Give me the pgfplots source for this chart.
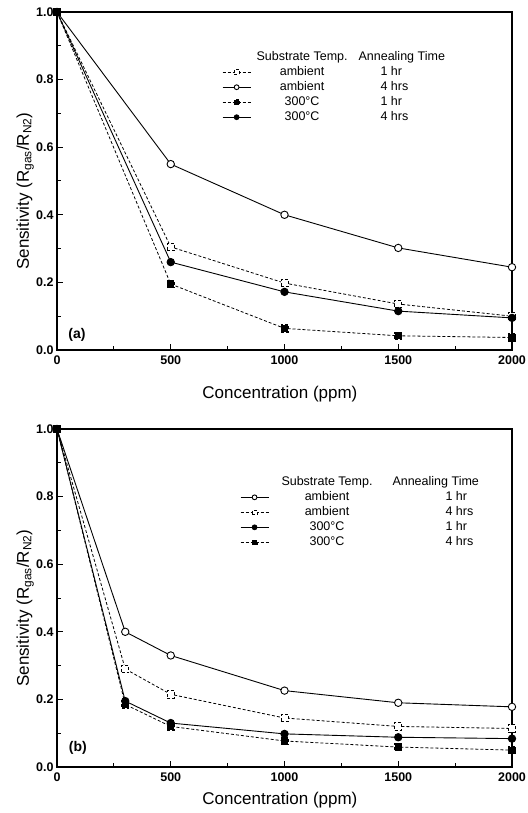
\documentclass[border=0pt]{standalone}
\usepackage{fontspec}
\setmainfont{Liberation Sans}
\usepackage{pgfplots}
\pgfplotsset{compat=1.18}

\pgfplotsset{
  sens/.style={
    scale only axis, width=455pt, height=338pt,
    xmin=0, xmax=2000, ymin=0, ymax=1,
    xtick={0,500,1000,1500,2000}, ytick={0,0.2,0.4,0.6,0.8,1.0},
    minor x tick num=1, minor y tick num=1,
    tick pos=left, tick align=inside,
    major tick length=6pt, minor tick length=4pt,
    axis line style={line width=1.6pt},
    tick style={black, line width=1pt},
    ticklabel style={font=\fontsize{12.5}{14}\selectfont\bfseries},
    xticklabel style={yshift=-2.5pt},
    /pgf/number format/assume math mode=true,
    /pgf/number format/1000 sep={},
    yticklabel style={/pgf/number format/.cd, fixed, fixed zerofill, precision=1},
    xlabel={Concentration (ppm)},
    ylabel={Sensitivity (R\textsubscript{gas}/R\textsubscript{N2})},
    label style={font=\fontsize{17}{19}\selectfont},
    ylabel style={at={(axis description cs:-0.07,0.47)}, anchor=center},
    legend cell align=left,
    legend style={draw=none, fill=none, inner sep=0pt, row sep=0pt,
      nodes={inner sep=1.5pt, text height=9pt, text depth=3pt,
        font=\fontsize{12.5}{14}\selectfont}},
    legend image code/.code={\draw[mark repeat=2,mark phase=2]
      plot coordinates {(0pt,0pt) (14pt,0pt) (28pt,0pt)};},
    legend image post style={mark size=2.4pt},
  },
  dsh/.style={black, line width=0.8pt, dash pattern=on 3pt off 2pt,
    mark options={solid, line width=0.8pt}, mark size=3.6pt},
  sld/.style={black, line width=0.9pt,
    mark options={solid, line width=0.8pt}, mark size=3.7pt},
}

% legend row: lead, col1 width, gap, indent of col2, col1 text, col2 text
\newcommand{\lrow}[6]{\hspace{#1}\makebox[#2][c]{#5}\hspace{#3}\makebox[100pt][l]{\hspace{#4}#6}}

\pgfplotstableread{
conc ambA1 ambA4 hotA1 hotA4
0    1.0   1.0   1.0   1.0
500  0.305 0.55  0.195 0.26
1000 0.198 0.40  0.064 0.172
1500 0.136 0.302 0.042 0.115
2000 0.100 0.245 0.037 0.095
}\panela

\pgfplotstableread{
conc ambB1 ambB4 hotB1 hotB4
0    1.0   1.0   1.0   1.0
300  0.40  0.29  0.195 0.185
500  0.33  0.215 0.13  0.12
1000 0.226 0.145 0.098 0.077
1500 0.19  0.12  0.088 0.059
2000 0.178 0.114 0.084 0.050
}\panelb

\begin{document}
\begin{tikzpicture}
\useasboundingbox (-57pt,-463pt) rectangle (470pt,350pt);

% (a)
\begin{axis}[sens,
  xlabel style={at={(axis description cs:0.49,-0.13)}, anchor=center},
  legend style={at={(axis description cs:0.3626,0.889)}, anchor=north west}]
\addlegendimage{empty legend}
\addlegendentry{\lrow{5pt}{89pt}{12pt}{0pt}{Substrate Temp.}{Annealing Time}}
\addplot[dsh, mark=square*, mark options={fill=white}] table[x=conc,y=ambA1] {\panela};
\addlegendentry{\lrow{5pt}{89pt}{12pt}{22pt}{ambient}{1 hr}}
\addplot[sld, mark=*, mark options={fill=white}] table[x=conc,y=ambA4] {\panela};
\addlegendentry{\lrow{5pt}{89pt}{12pt}{22pt}{ambient}{4 hrs}}
\addplot[dsh, mark=square*, mark options={fill=black}] table[x=conc,y=hotA1] {\panela};
\addlegendentry{\lrow{5pt}{89pt}{12pt}{22pt}{300°C}{1 hr}}
\addplot[sld, mark=*, mark options={fill=black}] table[x=conc,y=hotA4] {\panela};
\addlegendentry{\lrow{5pt}{89pt}{12pt}{22pt}{300°C}{4 hrs}}
\node[font=\fontsize{14}{16}\selectfont\bfseries] at (axis description cs:0.044,0.045) {(a)};
\end{axis}

% (b)
\begin{axis}[sens, at={(0pt,-417pt)},
  xlabel style={at={(axis description cs:0.49,-0.098)}, anchor=center},
  legend style={at={(axis description cs:0.402,0.865)}, anchor=north west}]
\addlegendimage{empty legend}
\addlegendentry{\lrow{9pt}{95pt}{18pt}{0pt}{Substrate Temp.}{Annealing Time}}
\addplot[sld, mark=*, mark options={fill=white}] table[x=conc,y=ambB1] {\panelb};
\addlegendentry{\lrow{9pt}{95pt}{18pt}{53pt}{ambient}{1 hr}}
\addplot[dsh, mark=square*, mark options={fill=white}] table[x=conc,y=ambB4] {\panelb};
\addlegendentry{\lrow{9pt}{95pt}{18pt}{53pt}{ambient}{4 hrs}}
\addplot[sld, mark=*, mark options={fill=black}] table[x=conc,y=hotB1] {\panelb};
\addlegendentry{\lrow{9pt}{95pt}{18pt}{53pt}{300°C}{1 hr}}
\addplot[dsh, mark=square*, mark options={fill=black}] table[x=conc,y=hotB4] {\panelb};
\addlegendentry{\lrow{9pt}{95pt}{18pt}{53pt}{300°C}{4 hrs}}
\node[font=\fontsize{14}{16}\selectfont\bfseries] at (axis description cs:0.046,0.056) {(b)};
\end{axis}
\end{tikzpicture}
\end{document}
